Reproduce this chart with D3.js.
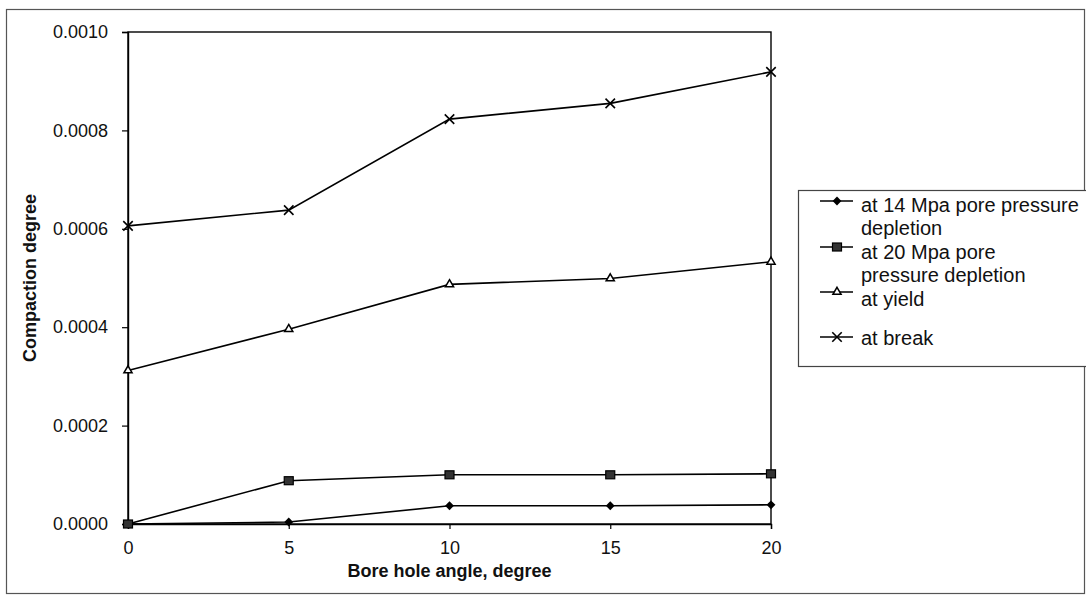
<!DOCTYPE html>
<html>
<head>
<meta charset="utf-8">
<script src="https://cdn.jsdelivr.net/npm/d3@7/dist/d3.min.js"></script>
<style>
  html, body { margin: 0; padding: 0; background: #fff; }
  svg { display: block; font-family: "Liberation Sans", Arial, Helvetica, sans-serif; }
</style>
</head>
<body>
<svg id="chart" width="1086" height="595"></svg>
<script>
// ---- data ----
const angles = [0, 5, 10, 15, 20];
const at14Mpa = [0, 0.000004, 0.000037, 0.000037, 0.000039];
const at20Mpa = [0, 0.000088, 0.000100, 0.000100, 0.000102];
const atYield = [0.000312, 0.000396, 0.000487, 0.000499, 0.000533];
const atBreak = [0.000606, 0.000638, 0.000823, 0.000855, 0.000919];
const xTicks = [0, 5, 10, 15, 20];
const yTicks = [0, 0.0002, 0.0004, 0.0006, 0.0008, 0.0010];
const seriesNames = [
  ["at 14 Mpa pore pressure", "depletion"],
  ["at 20 Mpa pore", "pressure depletion"],
  ["at yield"],
  ["at break"]
];
const xTitle = "Bore hole angle, degree";
const yTitle = "Compaction degree";

// ---- layout ----
const svg = d3.select("#chart");
const L = 128, R = 771, T = 32, B = 524;
const x = d3.scaleLinear().domain([0, 20]).range([L, R]);
const y = d3.scaleLinear().domain([0, 0.001]).range([B, T]);

// outer frame
svg.append("rect").attr("x", 6.5).attr("y", 9.5).attr("width", 1078).attr("height", 584)
  .attr("fill", "none").attr("stroke", "#555").attr("stroke-width", 1.2);

// plot frame
svg.append("rect").attr("x", L).attr("y", T).attr("width", R - L).attr("height", B - T)
  .attr("fill", "none").attr("stroke", "#000").attr("stroke-width", 1.4);

// axes
const xAxis = d3.axisBottom(x).tickValues(xTicks).tickSize(5).tickPadding(12).tickFormat(d3.format("d"));
const gx = svg.append("g").attr("transform", `translate(0,${B})`).call(xAxis);
const yAxis = d3.axisLeft(y).tickValues(yTicks).tickSize(6).tickPadding(14).tickFormat(d3.format(".4f"));
const gy = svg.append("g").attr("transform", `translate(${L},0)`).call(yAxis);
[gx, gy].forEach(g => {
  g.select(".domain").attr("stroke", "#000").attr("stroke-width", 1.4);
  g.selectAll(".tick line").attr("stroke", "#000").attr("stroke-width", 1.2);
  g.selectAll(".tick text").attr("font-size", 18).attr("fill", "#111")
    .attr("font-family", "'Liberation Sans', Arial, sans-serif");
});

// titles
svg.append("text").attr("x", (L + R) / 2).attr("y", 577).attr("text-anchor", "middle")
  .attr("font-size", 18).attr("font-weight", "bold").attr("fill", "#111").text(xTitle);
svg.append("text").attr("transform", `translate(36,${(T + B) / 2}) rotate(-90)`)
  .attr("text-anchor", "middle").attr("font-size", 18).attr("font-weight", "bold")
  .attr("fill", "#111").text(yTitle);

// marker drawers
function drawMarker(g, type, cx, cy) {
  if (type === 0) {
    g.append("path").attr("d", d3.symbol(d3.symbolDiamond2, 50)())
      .attr("transform", `translate(${cx},${cy})`).attr("fill", "#000");
  } else if (type === 1) {
    g.append("rect").attr("x", cx - 4.5).attr("y", cy - 4).attr("width", 9).attr("height", 8)
      .attr("fill", "#333").attr("stroke", "#000").attr("stroke-width", 1.2);
  } else if (type === 2) {
    g.append("path").attr("d", d3.symbol(d3.symbolTriangle2, 48)())
      .attr("transform", `translate(${cx},${cy})`).attr("fill", "#fff")
      .attr("stroke", "#000").attr("stroke-width", 1.5);
  } else {
    g.append("path").attr("d", d3.symbol(d3.symbolTimes, 60)())
      .attr("transform", `translate(${cx},${cy})`).attr("fill", "none")
      .attr("stroke", "#000").attr("stroke-width", 1.6);
  }
}

const allSeries = [at14Mpa, at20Mpa, atYield, atBreak];
const line = d3.line().x((d, i) => x(angles[i])).y(d => y(d));
allSeries.forEach((vals, si) => {
  const g = svg.append("g");
  g.append("path").datum(vals).attr("d", line).attr("fill", "none")
    .attr("stroke", "#000").attr("stroke-width", 1.6);
  vals.forEach((v, i) => drawMarker(g, si, x(angles[i]), y(v)));
});

// legend
const lg = svg.append("g");
lg.append("rect").attr("x", 798.5).attr("y", 190.5).attr("width", 300).attr("height", 176)
  .attr("fill", "#fff").attr("stroke", "#444").attr("stroke-width", 1.2);
const entryTextY = [[205, 228], [252, 275], [299], [338]];
const entryMarkY = [201, 247, 292, 337];
seriesNames.forEach((lines, si) => {
  const my = entryMarkY[si];
  lg.append("line").attr("x1", 820).attr("x2", 853).attr("y1", my).attr("y2", my)
    .attr("stroke", "#000").attr("stroke-width", 1.4);
  drawMarker(lg, si, 837, my);
  lines.forEach((t, li) => {
    lg.append("text").attr("x", 861).attr("y", entryTextY[si][li]).attr("dy", "0.35em")
      .attr("font-size", 20).attr("fill", "#111").text(t);
  });
});
</script>
</body>
</html>
